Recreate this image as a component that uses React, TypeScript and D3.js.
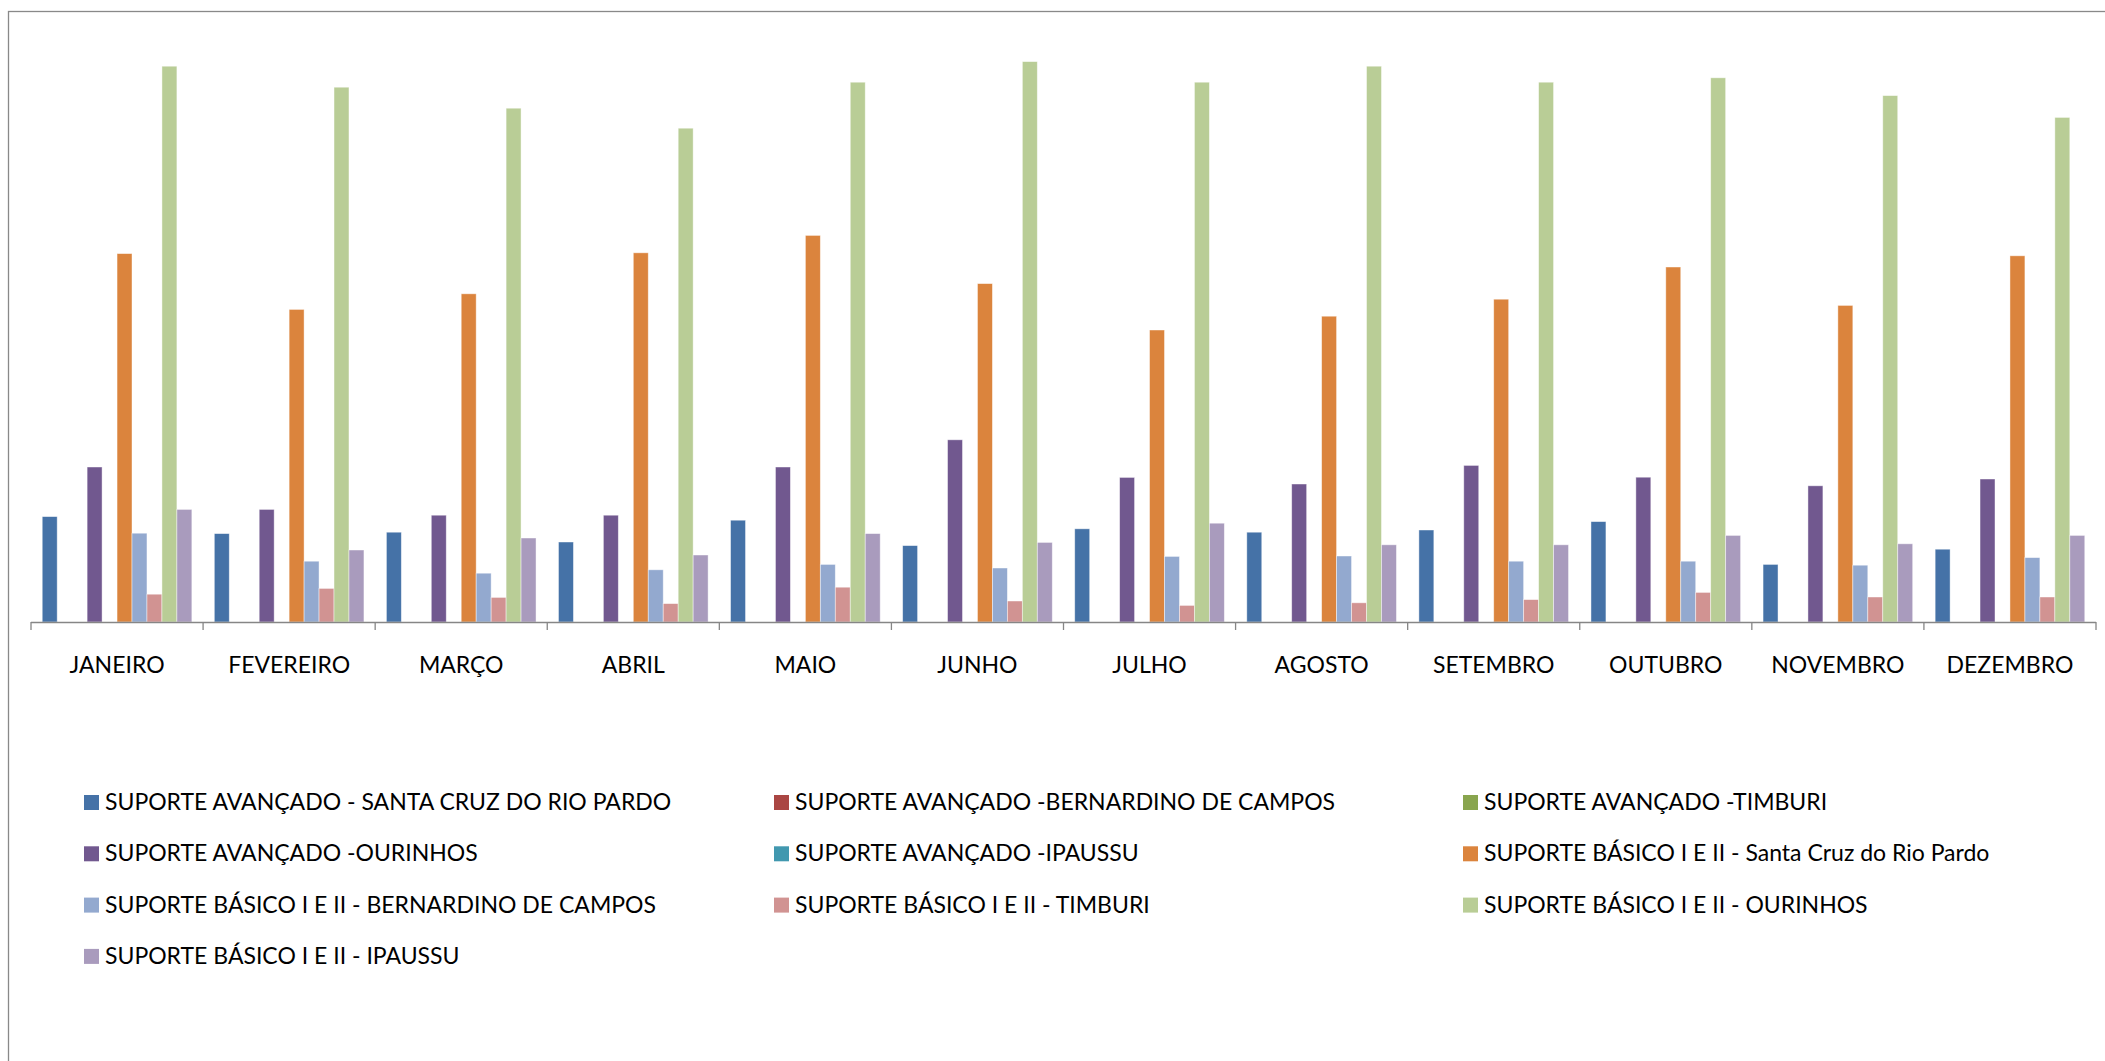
import React from "react";
import * as d3 from "d3";

const months = ["JANEIRO","FEVEREIRO","MARÇO","ABRIL","MAIO","JUNHO","JULHO","AGOSTO","SETEMBRO","OUTUBRO","NOVEMBRO","DEZEMBRO"];

const seriesNames = [
  "SUPORTE AVANÇADO - SANTA CRUZ DO RIO PARDO",
  "SUPORTE AVANÇADO -BERNARDINO DE CAMPOS",
  "SUPORTE AVANÇADO -TIMBURI",
  "SUPORTE AVANÇADO -OURINHOS",
  "SUPORTE AVANÇADO -IPAUSSU",
  "SUPORTE BÁSICO I E II - Santa Cruz do Rio Pardo",
  "SUPORTE BÁSICO I E II - BERNARDINO DE CAMPOS",
  "SUPORTE BÁSICO I E II - TIMBURI",
  "SUPORTE BÁSICO I E II - OURINHOS",
  "SUPORTE BÁSICO I E II - IPAUSSU",
];

const seriesColors = ["#4572A7","#AA4643","#89A54E","#71588F","#4198AF","#DB843D","#93A9CF","#D19392","#B9CD96","#A99BBD"];

const saSantaCruz = [52.7, 44.2, 44.9, 40.0, 50.9, 38.2, 46.6, 44.9, 46.0, 50.2, 28.8, 36.4];
const saBernardino = [0,0,0,0,0,0,0,0,0,0,0,0];
const saTimburi = [0,0,0,0,0,0,0,0,0,0,0,0];
const saOurinhos = [77.5, 56.3, 53.4, 53.4, 77.5, 91.1, 72.3, 69.0, 78.3, 72.4, 68.1, 71.5];
const saIpaussu = [0,0,0,0,0,0,0,0,0,0,0,0];
const sbSantaCruz = [184.2, 156.3, 164.1, 184.6, 193.3, 169.2, 146.0, 152.9, 161.4, 177.5, 158.3, 183.1];
const sbBernardino = [44.4, 30.4, 24.4, 26.1, 28.8, 27.0, 32.8, 33.0, 30.4, 30.4, 28.4, 32.2];
const sbTimburi = [13.9, 16.8, 12.3, 9.2, 17.4, 10.5, 8.3, 9.6, 11.2, 14.8, 12.5, 12.5];
const sbOurinhos = [277.9, 267.4, 256.9, 246.9, 269.9, 280.2, 269.9, 277.9, 269.9, 272.1, 263.2, 252.3];
const sbIpaussu = [56.3, 36.0, 42.0, 33.5, 44.2, 39.8, 49.4, 38.6, 38.6, 43.3, 39.1, 43.3];

const seriesValues = [saSantaCruz, saBernardino, saTimburi, saOurinhos, saIpaussu, sbSantaCruz, sbBernardino, sbTimburi, sbOurinhos, sbIpaussu];

const W = 2105;
const H = 1061;
const FONT = "Lato, 'Open Sans', sans-serif";

export default function App() {
  const x0 = d3.scaleBand<string>().domain(months).range([31, 2096]).paddingInner(0).paddingOuter(0);
  const x1 = d3.scaleBand<number>().domain(d3.range(seriesNames.length)).range([0, x0.bandwidth()]).paddingInner(0).paddingOuter(0.75);
  const y = d3.scaleLinear().domain([0, 300]).range([622, 22]);

  const ticks = months.map((m) => x0(m)!).concat([x0.range()[1]]);

  const legendCols = [
    { sx: 84, tx: 105 },
    { sx: 774, tx: 795 },
    { sx: 1463, tx: 1484 },
  ];
  const legendBase = 810;
  const legendStep = 51.3;

  return (
    <div style={{ position: "fixed", left: 0, top: 0, width: W, height: H, overflow: "hidden", background: "#fff" }}>
      <svg width={W} height={H} style={{ display: "block" }}>
        <rect x={0} y={0} width={W} height={H} fill="#fff" />
        <rect x={8.5} y={11.5} width={W + 20} height={H + 20} fill="none" stroke="#898989" strokeWidth={1.3} />
        {seriesValues.map((vals, si) => (
          <g key={si}>
            {vals.map((v, mi) =>
              v > 0 ? (
                <rect
                  key={mi}
                  x={x0(months[mi])! + x1(si)!}
                  y={y(v)}
                  width={x1.bandwidth()}
                  height={y(0) - y(v)}
                  fill={seriesColors[si]}
                  stroke="#ffffff"
                  strokeOpacity={0.55}
                  strokeWidth={0.8}
                />
              ) : null
            )}
          </g>
        ))}
        <line x1={31} x2={2096} y1={y(0) + 0.5} y2={y(0) + 0.5} stroke="#868686" strokeWidth={1.3} />
        {ticks.map((t, i) => (
          <line key={i} x1={t} x2={t} y1={y(0)} y2={y(0) + 8} stroke="#868686" strokeWidth={1.3} />
        ))}
        {months.map((m) => (
          <text key={m} x={x0(m)! + x0.bandwidth() / 2} y={673} textAnchor="middle" fontFamily={FONT} fontSize={23} fill="#000">
            {m}
          </text>
        ))}
        {seriesNames.map((name, i) => {
          const col = legendCols[i % 3];
          const row = Math.floor(i / 3);
          const base = legendBase + row * legendStep;
          return (
            <g key={name}>
              <rect x={col.sx} y={base - 15} width={15} height={15} fill={seriesColors[i]} />
              <text x={col.tx} y={base} fontFamily={FONT} fontSize={23} fill="#000">
                {name}
              </text>
            </g>
          );
        })}
      </svg>
    </div>
  );
}
